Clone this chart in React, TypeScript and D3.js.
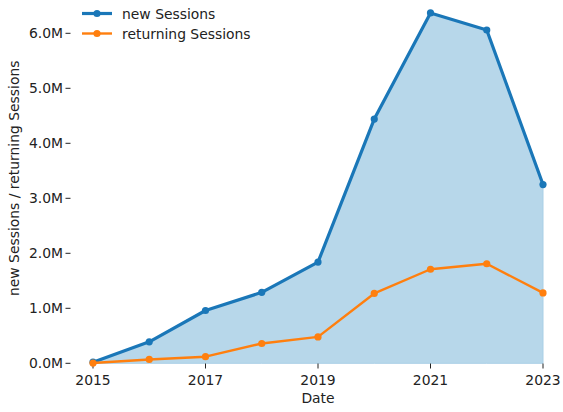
import React from "react";
import * as d3 from "d3";

const years = [2015, 2016, 2017, 2018, 2019, 2020, 2021, 2022, 2023];
const newSessions = [0.02, 0.39, 0.96, 1.29, 1.84, 4.44, 6.37, 6.06, 3.25];
const returningSessions = [0.005, 0.07, 0.12, 0.36, 0.48, 1.27, 1.71, 1.81, 1.28];
const yTicks = [0, 1, 2, 3, 4, 5, 6];
const xTicks = [2015, 2017, 2019, 2021, 2023];
const seriesNames = ["new Sessions", "returning Sessions"];

const W = 563;
const H = 412;
const FONT = "DejaVu Sans, sans-serif";
const BLUE = "#1a77b8";
const ORANGE = "#ff7f0e";
const FS = 13.9;

export default function App() {
  const x = d3.scaleLinear().domain([2015, 2023]).range([93, 543]);
  const y = d3.scaleLinear().domain([0, 6]).range([363.3, 33.3]);
  const line = d3
    .line<number>()
    .x((_, i) => x(years[i]))
    .y((d) => y(d));
  const area = d3
    .area<number>()
    .x((_, i) => x(years[i]))
    .y0(y(0))
    .y1((d) => y(d));
  const series = [
    { name: seriesNames[0], vals: newSessions, color: BLUE, w: 3.2 },
    { name: seriesNames[1], vals: returningSessions, color: ORANGE, w: 2.4 },
  ];
  return (
    <svg
      width={W}
      height={H}
      style={{ position: "absolute", left: 0, top: 0 }}
      fontFamily={FONT}
    >
      <rect width={W} height={H} fill="#fff" />
      <path
        d={area(newSessions) || ""}
        fill="#b7d7ea"
        stroke="#a9cfe6"
        strokeWidth={1}
      />
      {yTicks.map((t) => (
        <g key={t}>
          <line x1={65.5} x2={70.5} y1={y(t)} y2={y(t)} stroke="#222" strokeWidth={1} />
          <text
            x={63}
            y={y(t)}
            dy="0.36em"
            textAnchor="end"
            fontSize={FS}
            fill="#222"
          >
            {d3.format(".1f")(t) + "M"}
          </text>
        </g>
      ))}
      {xTicks.map((t) => (
        <g key={t}>
          <line x1={x(t)} x2={x(t)} y1={363.5} y2={368.5} stroke="#222" strokeWidth={1} />
          <text x={x(t)} y={385} textAnchor="middle" fontSize={FS} fill="#222">
            {t}
          </text>
        </g>
      ))}
      <text x={318} y={403} textAnchor="middle" fontSize={FS} fill="#222">
        Date
      </text>
      <text
        transform={`translate(19,${178.3}) rotate(-90)`}
        textAnchor="middle"
        fontSize={FS}
        fill="#222"
      >
        {seriesNames[0] + " / " + seriesNames[1]}
      </text>
      {series.map((s) => (
        <g key={s.name}>
          <path
            d={line(s.vals) || ""}
            fill="none"
            stroke={s.color}
            strokeWidth={s.w}
            strokeLinejoin="round"
          />
          {s.vals.map((v, i) => (
            <circle key={i} cx={x(years[i])} cy={y(v)} r={3.6} fill={s.color} />
          ))}
        </g>
      ))}
      {series.map((s, i) => (
        <g key={"lg" + s.name} transform={`translate(0,${13.5 + i * 20})`}>
          <line x1={82} x2={112} y1={0} y2={0} stroke={s.color} strokeWidth={s.w} />
          <circle cx={97} cy={0} r={3.6} fill={s.color} />
          <text x={122} y={0} dy="0.36em" fontSize={FS} fill="#222">
            {s.name}
          </text>
        </g>
      ))}
    </svg>
  );
}
